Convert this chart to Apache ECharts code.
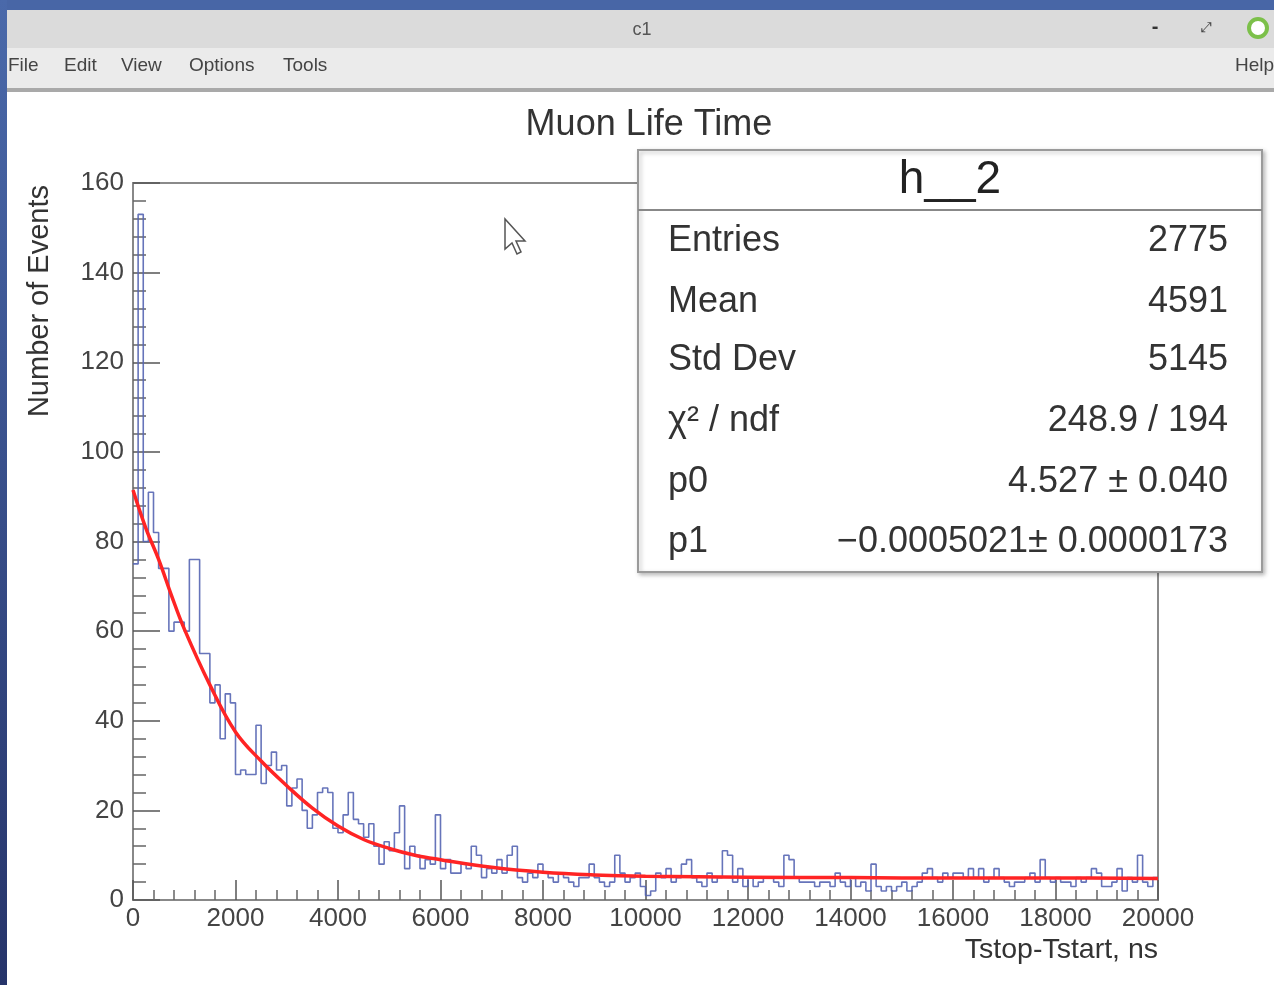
<!DOCTYPE html>
<html>
<head>
<meta charset="utf-8">
<title>Muon Life Time</title>
<script src="https://cdn.jsdelivr.net/npm/echarts@6/dist/echarts.min.js"></script>
<style>
  html, body { margin: 0; padding: 0; background: #fff; }
  #chart { width: 1274px; height: 985px; }
</style>
</head>
<body>
<div id="chart"></div>
<script>
// histogram h__2: 200 bins of 100 ns, 0..20000 ns
var binWidth = 100;
var binCounts = [
  75, 153, 80, 91, 82, 74, 74, 60, 62, 62,
  60, 76, 76, 55, 55, 44, 48, 36, 46, 44,
  28, 29, 28, 28, 39, 26, 30, 33, 29, 30,
  21, 25, 27, 20, 16, 19, 24, 25, 24, 16,
  15, 19, 24, 18, 17, 14, 17, 12, 8, 13,
  11, 15, 21, 7, 12, 10, 7, 9, 8, 19,
  7, 9, 6, 6, 8, 7, 12, 10, 5, 7,
  6, 9, 6, 10, 12, 5, 4, 6, 5, 8,
  6, 5, 4, 6, 5, 4, 3, 5, 5, 8,
  5, 4, 3, 4, 10, 6, 4, 5, 6, 3,
  1, 2, 6, 5, 7, 4, 5, 8, 9, 5,
  4, 3, 6, 4, 5, 11, 10, 4, 7, 3,
  5, 3, 4, 5, 5, 4, 3, 10, 9, 5,
  4, 4, 4, 3, 4, 4, 3, 6, 4, 3,
  5, 3, 4, 2, 8, 3, 2, 3, 2, 3,
  4, 2, 3, 4, 6, 7, 5, 4, 6, 5,
  6, 6, 5, 7, 5, 7, 4, 5, 7, 5,
  4, 3, 4, 4, 5, 6, 4, 9, 5, 4,
  5, 4, 4, 3, 5, 4, 5, 7, 6, 3,
  3, 4, 7, 2, 5, 4, 10, 4, 3, 5
];

// fitted curve
var fitX = [0, 250, 500, 750, 1000, 1500, 2000, 2500, 3000, 3500, 4000, 4500,
            5000, 5500, 6000, 7000, 8000, 9000, 10000, 12000, 14000, 16000, 18000, 20000];
var fitY = [91.5, 83, 76, 68, 60.5, 48, 37.5, 31, 25.5, 20.5, 16.5, 13.5,
            11.5, 10, 9, 7.3, 6.2, 5.6, 5.3, 5.1, 5.0, 4.9, 4.9, 4.8];

var statLabels = ['Entries', 'Mean', 'Std Dev', 'χ² / ndf', 'p0', 'p1'];
var statValues = ['2775', '4591', '5145', '248.9 / 194', '4.527 ± 0.040', '−0.0005021± 0.0000173'];
var menuItems = ['File', 'Edit', 'View', 'Options', 'Tools'];

var FONT = '"Liberation Sans", Arial, sans-serif';

var histData = [];
for (var k = 0; k < binCounts.length; k++) {
  histData.push([k * binWidth, binCounts[k]]);
}
histData.push([binCounts.length * binWidth, binCounts[binCounts.length - 1]]);

var fitData = fitX.map(function (x, i) { return [x, fitY[i]]; });

var chart = echarts.init(document.getElementById('chart'), null, { renderer: 'canvas' });

// window chrome (ROOT canvas "c1")
var chrome = [
  { type: 'rect', shape: { x: 0, y: 0, width: 1274, height: 10 }, style: { fill: '#4866a6' } },
  { type: 'rect', shape: { x: 0, y: 0, width: 7, height: 985 },
    style: { fill: new echarts.graphic.LinearGradient(0, 0, 0, 1, [
      { offset: 0, color: '#4a69aa' }, { offset: 1, color: '#26346a' }]) } },
  { type: 'rect', shape: { x: 7, y: 10, width: 1267, height: 38 }, style: { fill: '#dbdbdb' } },
  { type: 'rect', shape: { x: 7, y: 48, width: 1267, height: 40 }, style: { fill: '#ebebeb' } },
  { type: 'rect', shape: { x: 7, y: 88, width: 1267, height: 4 }, style: { fill: '#a9a9a9' } },
  { type: 'text', style: { text: 'c1', x: 642, y: 30, fill: '#555', font: '18px ' + FONT,
    textAlign: 'center', textVerticalAlign: 'middle' } },
  { type: 'text', style: { text: '-', x: 1155, y: 27, fill: '#333', font: 'bold 20px ' + FONT,
    textAlign: 'center', textVerticalAlign: 'middle' } },
  { type: 'text', style: { text: '⤢', x: 1206, y: 28, fill: '#444', font: '14px ' + FONT,
    textAlign: 'center', textVerticalAlign: 'middle' } },
  { type: 'circle', shape: { cx: 1258, cy: 28, r: 9 }, style: { fill: '#fff', stroke: '#7cc04a', lineWidth: 4 } },
  { type: 'text', style: { text: 'Help', x: 1235, y: 66, fill: '#444', font: '19px ' + FONT,
    textVerticalAlign: 'middle' } }
];
var menuX = [8, 64, 121, 189, 283];
menuItems.forEach(function (m, i) {
  chrome.push({ type: 'text', style: { text: m, x: menuX[i], y: 66, fill: '#444', font: '19px ' + FONT,
    textVerticalAlign: 'middle' } });
});

// axis titles
chrome.push({ type: 'text', x: 40, y: 185, rotation: Math.PI / 2,
  style: { text: 'Number of Events', x: 0, y: 0, fill: '#333', font: '29px ' + FONT,
    textAlign: 'right', textVerticalAlign: 'middle' } });
chrome.push({ type: 'text', style: { text: 'Tstop-Tstart, ns', x: 1158, y: 950, fill: '#333',
  font: '28.5px ' + FONT, textAlign: 'right', textVerticalAlign: 'middle' } });

// mouse pointer
chrome.push({ type: 'polygon', shape: { points: [[505, 219], [505, 249], [512, 243], [517, 254], [521, 252], [516, 241], [525, 241]] },
  style: { fill: '#fff', stroke: '#555', lineWidth: 1.5 } });

// stats box
var statRowY = [241, 302, 360, 421, 482, 542];
var stats = [
  { type: 'rect', shape: { x: 638, y: 150, width: 624, height: 422 },
    style: { fill: '#fff', stroke: '#9a9a9a', lineWidth: 2, shadowBlur: 4, shadowOffsetX: 2, shadowOffsetY: 2, shadowColor: 'rgba(0,0,0,0.25)' } },
  { type: 'line', shape: { x1: 638, y1: 210, x2: 1262, y2: 210 }, style: { stroke: '#888', lineWidth: 2 } },
  { type: 'text', style: { text: 'h__2', x: 950, y: 180, fill: '#222', font: '46px ' + FONT,
    textAlign: 'center', textVerticalAlign: 'middle' } }
];
statLabels.forEach(function (lab, i) {
  stats.push({ type: 'text', style: { text: lab, x: 668, y: statRowY[i], fill: '#333', font: '36px ' + FONT,
    textVerticalAlign: 'middle' } });
  stats.push({ type: 'text', style: { text: statValues[i], x: 1228, y: statRowY[i], fill: '#333', font: '36px ' + FONT,
    textAlign: 'right', textVerticalAlign: 'middle' } });
});
stats.forEach(function (g) { g.z = 100; });

var option = {
  animation: false,
  backgroundColor: '#fff',
  title: {
    text: 'Muon Life Time',
    left: 644,
    top: 102,
    textAlign: 'center',
    textStyle: { fontFamily: FONT, fontSize: 36, fontWeight: 'normal', color: '#333' }
  },
  grid: {
    left: 133, right: 116, top: 183, bottom: 85,
    show: true, borderColor: '#8a8a8a', borderWidth: 2, backgroundColor: '#fff'
  },
  xAxis: {
    type: 'value', min: 0, max: 20000, interval: 2000,
    axisLine: { show: true, onZero: false, lineStyle: { color: '#888', width: 2 } },
    axisTick: { inside: true, length: 20, lineStyle: { color: '#555', width: 1.5 } },
    minorTick: { show: true, splitNumber: 5, length: 10, lineStyle: { color: '#666', width: 1.5 } },
    axisLabel: { fontFamily: FONT, fontSize: 26, color: '#444', margin: 6,
      formatter: function (v) { return String(v); } },
    splitLine: { show: false }
  },
  yAxis: {
    type: 'value', min: 0, max: 160, interval: 20,
    axisLine: { show: true, lineStyle: { color: '#888', width: 2 } },
    axisTick: { inside: true, length: 27, lineStyle: { color: '#555', width: 1.5 } },
    minorTick: { show: true, splitNumber: 5, length: 13, lineStyle: { color: '#666', width: 1.5 } },
    axisLabel: { fontFamily: FONT, fontSize: 26, color: '#444', margin: 9 },
    splitLine: { show: false }
  },
  graphic: chrome.concat(stats),
  series: [
    {
      name: 'h__2', type: 'line', step: 'end', data: histData,
      symbol: 'none', lineStyle: { color: '#5565b2', width: 1.6, opacity: 0.9 }, z: 2
    },
    {
      name: 'fit', type: 'line', smooth: 0.4, data: fitData,
      symbol: 'none', lineStyle: { color: '#ff2424', width: 3.5 }, z: 3
    }
  ]
};

chart.setOption(option);
</script>
</body>
</html>
